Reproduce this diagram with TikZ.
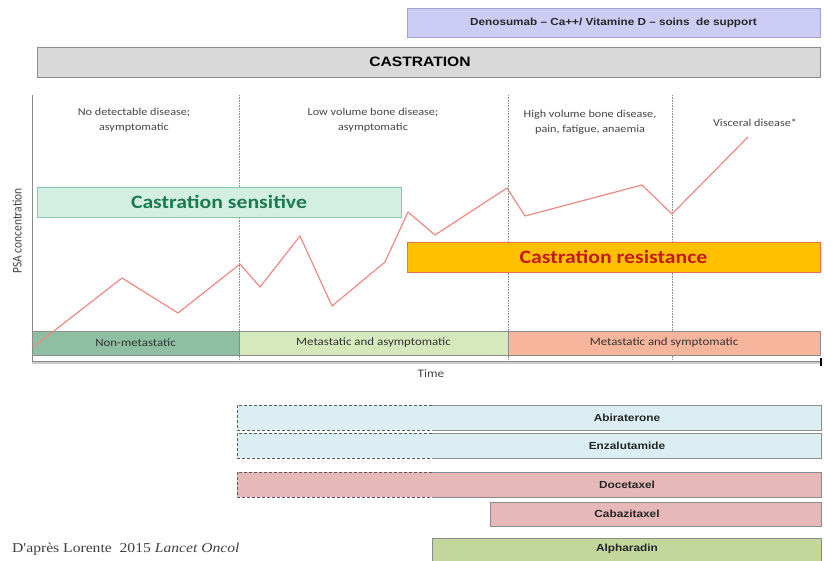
\documentclass[tikz,border=0pt]{standalone}
\usepackage{fontspec}
\setmainfont{Carlito}
\newfontfamily\arialf{Liberation Sans}
\newfontfamily\seriff{Liberation Serif}
\newcommand\wx[1]{\scalebox{1.15}[1]{#1}}
\definecolor{denofill}{HTML}{CCCCF4}
\definecolor{denodraw}{HTML}{A0A0D0}
\definecolor{castfill}{HTML}{D9D9D9}
\definecolor{boxgray}{HTML}{8C8C8C}
\definecolor{sensfill}{HTML}{D3EFE2}
\definecolor{sensdraw}{HTML}{86C9A6}
\definecolor{senstext}{HTML}{1C7A52}
\definecolor{resfill}{HTML}{FFC000}
\definecolor{resdraw}{HTML}{E8704A}
\definecolor{restext}{HTML}{C41A1A}
\definecolor{psa}{HTML}{EE8A86}
\definecolor{nonmet}{HTML}{8EBFA3}
\definecolor{metasy}{HTML}{D6E9BD}
\definecolor{metsy}{HTML}{F7B59C}
\definecolor{bluefill}{HTML}{DAEEF3}
\definecolor{pinkfill}{HTML}{E6B8B7}
\definecolor{greenfill}{HTML}{C3D69B}
\definecolor{sepline}{HTML}{7F8C99}
\definecolor{axisgray}{HTML}{8A8A8A}
\definecolor{txtgray}{HTML}{454545}
\begin{document}
\begin{tikzpicture}[x=1pt,y=-1pt,
  box/.style={draw=boxgray, line width=0.8pt, inner sep=0pt, outer sep=0pt, anchor=north west},
  region/.style={font=\fontsize{10.6}{15}\selectfont, text=txtgray, align=center},
  stage/.style={font=\fontsize{11.2}{12}\selectfont, text=black!80},
  drug/.style={font=\arialf\bfseries\fontsize{10.3}{12}\selectfont, text=black!85},
  bigbar/.style={font=\bfseries\fontsize{18.9}{20}\selectfont},
  sepstyle/.style={sepline, line width=0.6pt, densely dotted},
  dashedge/.style={draw=black!65, line width=0.8pt, densely dashed},
  solidedge/.style={draw=boxgray, line width=0.8pt}]
\useasboundingbox[fill=white] (0,0) rectangle (824,560);

% top bars
\node[box, fill=denofill, draw=denodraw, minimum width=413pt, minimum height=29pt,
  font=\arialf\bfseries\fontsize{10.2}{12}\selectfont, text=black!85] (deno) at (407,8) {\wx{Denosumab – Ca++/ Vitamine D – soins\ \ de support}};
\node[box, fill=castfill, minimum width=783pt, minimum height=30pt] (cast) at (37,47) {};
\node[font=\arialf\bfseries\fontsize{13.6}{15}\selectfont] (castlab) at (420,62) {\wx{CASTRATION}};

% separators
\draw[sepstyle] (239,95) -- (239,362);
\draw[sepstyle] (508,95) -- (508,362);
\draw[sepstyle] (672,95) -- (672,362);

% region texts
\node[region] (r1) at (134,120) {\wx{No detectable disease;}\\\wx{asymptomatic}};
\node[region] (r2) at (373,120) {\wx{Low volume bone disease;}\\\wx{asymptomatic}};
\node[region] (r3) at (590,122) {\wx{High volume bone disease,}\\\wx{pain, fatigue, anaemia}};
\node[region] (r4) at (755,123) {\wx{Visceral disease*}};

% sensitivity / resistance bars
\node[box, fill=sensfill, draw=sensdraw, minimum width=364pt, minimum height=30pt,
  bigbar, text=senstext] (sens) at (37,187) {\wx{Castration sensitive}};
\node[box, fill=resfill, draw=resdraw, minimum width=413pt, minimum height=30pt,
  bigbar, text=restext] (res) at (407,242) {\wx{Castration resistance}};

% stage bars
\node[box, fill=nonmet, minimum width=207pt, minimum height=24pt, stage] (s1) at (32,331) {\wx{Non-metastatic}};
\node[box, fill=metasy, minimum width=269pt, minimum height=24pt, stage] (s2) at (239,331) {\wx{Metastatic and asymptomatic}};
\node[box, fill=metsy, minimum width=312pt, minimum height=24pt, stage] (s3) at (508,331) {\wx{Metastatic and symptomatic}};

% PSA curve
\draw[psa, line width=1.2pt, line join=round] (32,348) -- (122,278) -- (178,313) -- (240,264) -- (260,287) -- (300,236)
  -- (332,306) -- (385,262) -- (408,212) -- (435,235) -- (507,188) -- (525,216) -- (642,185) -- (672,214) -- (748,137);

% axes
\draw[axisgray, line width=1pt] (32,95) -- (32,362);
\draw[black!20, line width=2.5pt] (32,362.5) -- (820,362.5);
\draw[axisgray, line width=0.8pt] (32,361) -- (820,361);
\draw[black, line width=1.6pt] (821,358) -- (821,366);
\node[font=\fontsize{11.5}{13}\selectfont, text=txtgray] (time) at (431,374) {\wx{Time}};
\node[rotate=90, font=\fontsize{11.5}{13}\selectfont, text=txtgray] (psalab) at (17,231) {\scalebox{1}[1.15]{PSA concentration}};

% drug bars
\fill[bluefill] (237,405) rectangle (821,430);
\draw[dashedge] (432,405) -- (237,405) -- (237,430) -- (432,430);
\draw[solidedge] (432,405) -- (821,405) -- (821,430) -- (432,430);
\node[drug] (abi) at (627,417.5) {\wx{Abiraterone}};

\fill[bluefill] (237,433) rectangle (821,458);
\draw[dashedge] (432,433) -- (237,433) -- (237,458) -- (432,458);
\draw[solidedge] (432,433) -- (821,433) -- (821,458) -- (432,458);
\node[drug] (enza) at (627,445.5) {\wx{Enzalutamide}};

\fill[pinkfill] (237,472) rectangle (821,497);
\draw[dashedge] (432,472) -- (237,472) -- (237,497) -- (432,497);
\draw[solidedge] (432,472) -- (821,472) -- (821,497) -- (432,497);
\node[drug] (doce) at (627,484.5) {\wx{Docetaxel}};

\fill[pinkfill] (490,502) rectangle (821,526);
\draw[solidedge] (490,502) rectangle (821,526);
\node[drug] (caba) at (627,514) {\wx{Cabazitaxel}};

\fill[greenfill] (432,538) rectangle (821,563);
\draw[solidedge] (432,538) rectangle (821,563);
\node[drug] (alpha) at (627,548.5) {\wx{Alpharadin}};

\node[anchor=west, inner sep=0pt, font=\seriff\fontsize{13.6}{15}\selectfont, text=black!75] (ref) at (12,549) {\wx{D'après Lorente\enspace 2015 \textit{Lancet Oncol}}};
\end{tikzpicture}
\end{document}
